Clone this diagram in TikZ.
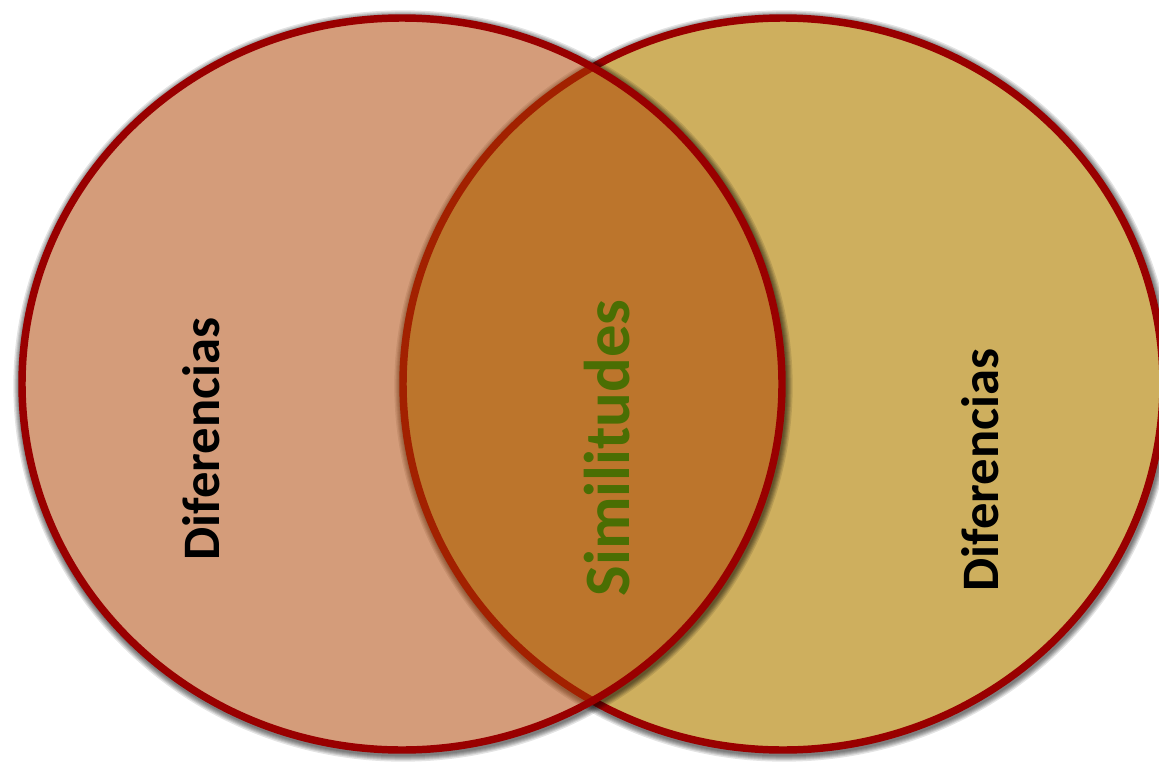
\documentclass[tikz,border=0pt]{standalone}
\usepackage{fontspec}
\setmainfont{Carlito}
\definecolor{bordred}{RGB}{153,0,0}
\definecolor{leftfill}{RGB}{172,65,0}
\definecolor{rightfill}{RGB}{206,175,94}
\definecolor{simgreen}{RGB}{74,110,3}
\tikzset{
  vshadow/.style={draw=black, opacity=0.11},
  vborder/.style={draw=bordred, line width=5.6pt},
  vlabel/.style={font=\bfseries\fontsize{39.5}{40}\selectfont, rotate=90, inner sep=0pt},
  vell/.style={x radius=285pt, y radius=274.5pt},
}
\begin{document}
\begin{tikzpicture}[x=0.75pt,y=-0.75pt]
\useasboundingbox (0,0) rectangle (1159,763);
\coordinate (L) at (402,384);
\coordinate (R) at (783,384);
% shadow of right circle
\begin{scope}[even odd rule]
  \clip (-60,-60) rectangle (1260,860) (R) ellipse [vell];
  \foreach \w in {6.5,8,9.5,11,12.5,14.5} \draw[vshadow, line width=\w pt] ([shift={(1,2)}]R) ellipse [vell];
\end{scope}
% right circle
\draw[vborder, fill=rightfill] (R) ellipse [vell];
% shadow of left circle
\begin{scope}[even odd rule]
  \clip (-60,-60) rectangle (1260,860) (L) ellipse [vell];
  \foreach \w in {6.5,8,9.5,11,12.5,14.5} \draw[vshadow, line width=\w pt] ([shift={(1,2)}]L) ellipse [vell];
\end{scope}
% left circle (semi-transparent)
\fill[leftfill, fill opacity=0.52] (L) ellipse [vell];
\draw[vborder] (L) ellipse [vell];
% labels
\node[vlabel] (dl) at (201,439) {Diferencias};
\node[vlabel, text=simgreen, font=\bfseries\fontsize{48.5}{50}\selectfont] (sim) at (607,448) {Similitudes};
\node[vlabel] (dr) at (980,470) {Diferencias};
\end{tikzpicture}
\end{document}
